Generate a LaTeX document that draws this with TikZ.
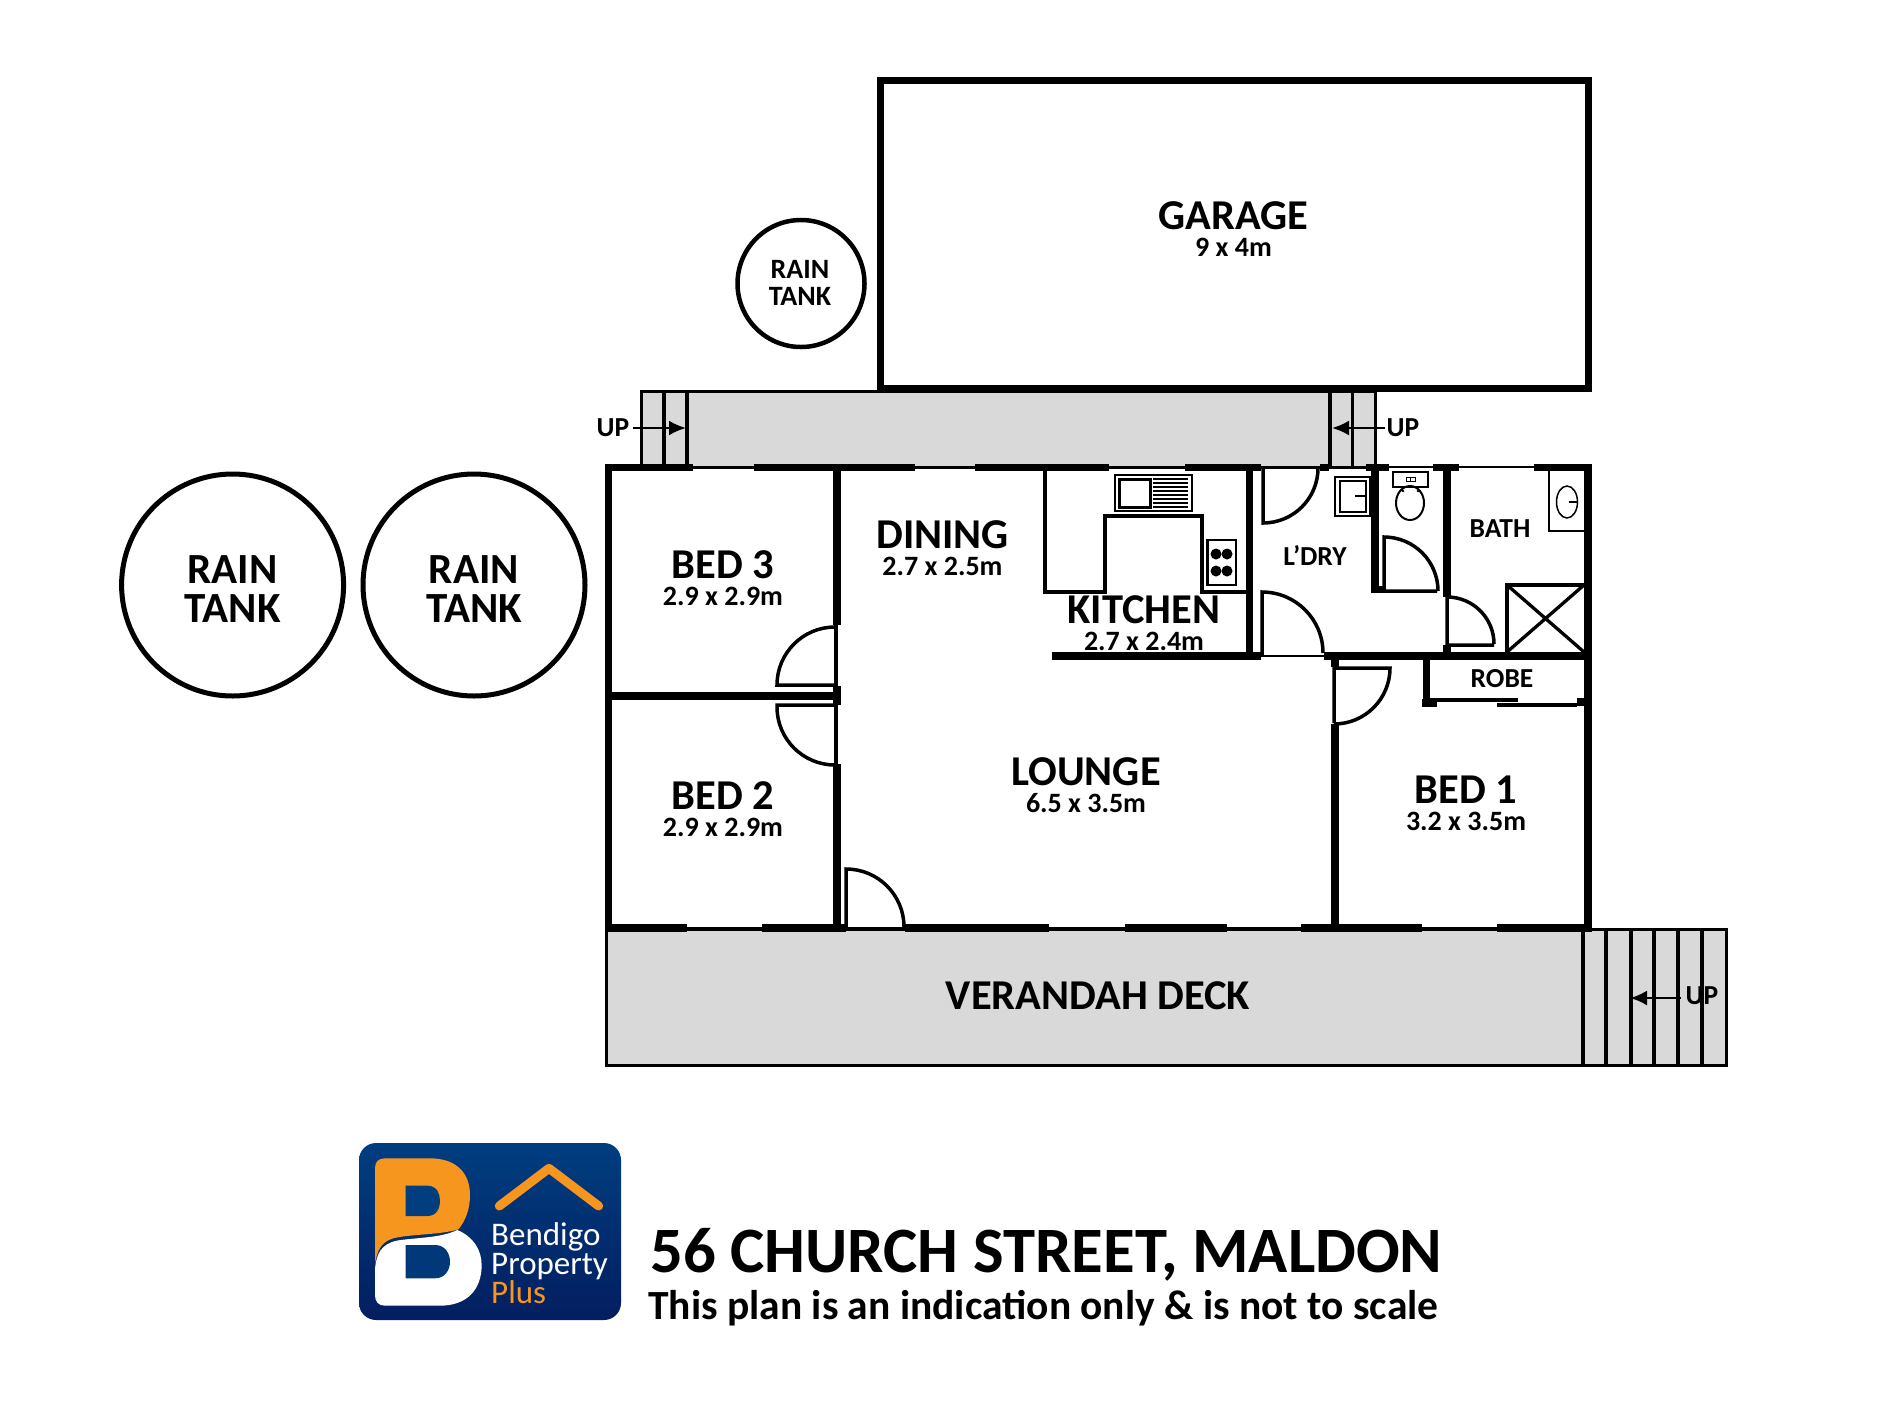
\documentclass[tikz,border=0pt]{standalone}
\usepackage{fontspec}
\setmainfont{Carlito}
\usetikzlibrary{arrows.meta}
\definecolor{deckgrey}{RGB}{217,217,217}
\definecolor{logotop}{RGB}{0,62,128}
\definecolor{logobot}{RGB}{3,30,96}
\definecolor{logoorange}{RGB}{247,150,30}
\newcommand{\fs}[1]{\fontsize{#1}{#1}\selectfont}
\newcommand{\roomname}[1]{{\fs{42.5}#1}}
\tikzset{
  wall/.style={line width=7.5pt},
  sill/.style={line width=2.5pt},
  door/.style={line width=3.5pt},
  fitting/.style={line width=2.5pt},
  deck/.style={draw=black,fill=deckgrey,line width=3pt},
  stair/.style={line width=3.3pt},
  bigroom/.style={inner sep=0pt,font=\fs{42.5}\bfseries},
  roomlabel/.style={inner sep=0pt,align=center,font=\fontsize{28}{27}\selectfont\bfseries},
  smallroom/.style={inner sep=0pt,font=\fs{27.5}\bfseries},
  uparrow/.style={line width=2.5pt,-{Latex[length=17pt,width=15pt]}}
}
\begin{document}
\begin{tikzpicture}[x=1pt,y=-1pt]
  \useasboundingbox (0,0) rectangle (1900,1425);
  % decks
  \draw[deck] (641,391) rectangle (1375,467);
  \draw[deck] (606,929) rectangle (1726,1065.5);
  \draw[stair] (664,391) -- (664,467) (687,391) -- (687,467);
  \draw[stair] (1330,391) -- (1330,467) (1352.5,391) -- (1352.5,467);
  \foreach \sx in {1583,1606,1631,1654,1678,1702}
    \draw[stair] (\sx,929) -- (\sx,1065);
  % garage and tanks
  \draw[wall,line width=7pt] (880,80) rectangle (1588,388.5);
  \node[circle,draw,line width=4.5pt,minimum size=127pt,inner sep=0pt] (tanksmall) at (801,283.5) {};
  \node[circle,draw,line width=5pt,minimum size=222pt,inner sep=0pt] (tankone) at (232.6,585) {};
  \node[circle,draw,line width=5pt,minimum size=222pt,inner sep=0pt] (tanktwo) at (474,585) {};
  % outer walls
  \draw[wall] (608.5,464) -- (608.5,932);
  \draw[wall,line width=8pt] (1588,464) -- (1588,932);
  \foreach \xa/\xb in {605/693,754/915,975/1109,1185/1261,1320/1329,1366/1389,1433/1459,1534/1592}
    \draw[wall] (\xa,467.5) -- (\xb,467.5);
  \foreach \xa/\xb in {693/754,915/975,1109/1185,1329/1366,1389/1433,1459/1534}
    \draw[sill] (\xa,467) -- (\xb,467);
  \foreach \xa/\xb in {605/687,762/846,905/1049,1124.5/1227,1301/1422,1497/1592}
    \draw[wall] (\xa,928) -- (\xb,928);
  \foreach \xa/\xb in {687/762,846/905,1049/1124.5,1227/1301,1422/1497}
    \draw[sill] (\xa,928) -- (\xb,928);
  % inner walls
  \draw[wall] (837,464) -- (837,625) (837,686) -- (837,705) (837,764) -- (837,932);
  \draw[wall,line width=8pt] (608,696) -- (841,696);
  \draw[wall] (1249.5,468) -- (1249.5,656);
  \draw[wall] (1052,656) -- (1261,656) (1324,656) -- (1585,656);
  \draw[sill] (1261,656) -- (1324,656);
  \draw[wall] (1375,468) -- (1375,593);
  \draw[wall] (1372,589.5) -- (1383,589.5);
  \draw[wall] (1447,468) -- (1447,597) (1447,645) -- (1447,656);
  \draw[wall] (1426.5,656) -- (1426.5,706);
  \draw[wall] (1422,703) -- (1437,703) (1577,702) -- (1584,702);
  \draw[wall] (1335,656) -- (1335,667) (1335,724) -- (1335,932);
  \draw[stair] (1430,700) -- (1518,700) (1497,705) -- (1577,705);
  % doors
  \draw[door] (836,625) -- (836,686);
  \draw[door] (835,627) arc[start angle=-90,end angle=-180,radius=58] -- (777,685) -- (836,685);
  \draw[door] (836,705) -- (836,764);
  \draw[door] (836,705) -- (777,705) -- (777,707) arc[start angle=180,end angle=90,radius=58];
  \draw[door] (846,928) -- (846,869) arc[start angle=-90,end angle=0,radius=58];
  \draw[door] (1263,468) -- (1263,523) arc[start angle=90,end angle=0,radius=55];
  \draw[door] (1262,656) -- (1262,592) arc[start angle=-90,end angle=0,radius=61];
  \draw[door] (1437,591) -- (1384,591) -- (1384,537) arc[start angle=-90,end angle=0,radius=54];
  \draw[door] (1494,645) -- (1447,645) -- (1447,597) arc[start angle=-90,end angle=0,radius=47];
  \draw[door] (1334,723) -- (1334,668) -- (1390,668) arc[start angle=0,end angle=90,radius=56];
  % kitchen fittings
  \draw[stair] (1045,468) -- (1045,592) -- (1105,592) -- (1105,516) -- (1202,516) -- (1202,592) -- (1246,592);
  \draw[fitting] (1115,475) rectangle (1192,511);
  \draw[line width=3pt] (1119,479) rectangle (1150,507);
  \foreach \dy in {479,483,487,491,495,499,503,507}
    \draw[line width=1.5pt] (1153,\dy) -- (1188,\dy);
  \draw[fitting] (1207.5,540) rectangle (1236,585);
  \foreach \bx in {1216,1227} \foreach \by in {554,571}
    \fill (\bx,\by) circle[radius=5.5];
  % laundry, toilet and bath fittings
  \draw[sill] (1335,477) rectangle (1370,516) (1340,481) rectangle (1366,512);
  \draw[sill] (1355,496) -- (1366,496);
  \draw[line width=1.5pt] (1393,472) rectangle (1428,487);
  \draw[line width=.7pt] (1406,477.5) rectangle (1410.5,481.5) (1410.5,477.5) rectangle (1415,481.5);
  \draw[line width=2pt] (1410,503) ellipse[x radius=14,y radius=17];
  \fill (1403,491) circle[radius=1.3] (1418,491) circle[radius=1.3];
  \draw[fitting] (1549,468) -- (1549,531) -- (1585,531);
  \draw[line width=1.5pt] (1567,502) ellipse[x radius=10.5,y radius=16];
  \draw[fitting] (1569,502) -- (1578,502);
  \draw[stair] (1507,652) -- (1507,585) -- (1584,585);
  \draw[stair] (1507,652) -- (1584,585) (1507,585) -- (1584,652);
  % stair arrows
  \coordinate (upatail) at (633,428);
  \coordinate (upahead) at (686,428);
  \coordinate (upbtail) at (1385,428);
  \coordinate (upbhead) at (1332,428);
  \coordinate (upctail) at (1681,998);
  \coordinate (upchead) at (1630,998);
  \draw[uparrow] (upatail) -- (upahead);
  \draw[uparrow] (upbtail) -- (upbhead);
  \draw[uparrow] (upctail) -- (upchead);
  \node[smallroom] (upa) at (613,428) {UP};
  \node[smallroom] (upb) at (1403,428) {UP};
  \node[smallroom] (upc) at (1702,996) {UP};
  % labels
  \node[roomlabel] (garage) at (1233.5,229) {\roomname{GARAGE}\\9 x 4m};
  \node[roomlabel] (raina) at (800,283) {RAIN\\TANK};
  \node[inner sep=0pt,align=center,font=\fontsize{43}{39}\selectfont\bfseries] (rainb) at (232.6,589) {RAIN\\TANK};
  \node[inner sep=0pt,align=center,font=\fontsize{43}{39}\selectfont\bfseries] (rainc) at (474,589) {RAIN\\TANK};
  \node[roomlabel] (bedthree) at (723,578) {\roomname{BED 3}\\2.9 x 2.9m};
  \node[roomlabel] (dining) at (942.5,548.6) {\roomname{DINING}\\2.7 x 2.5m};
  \node[roomlabel] (kitchen) at (1144,623.6) {\roomname{KITCHEN}\\2.7 x 2.4m};
  \node[smallroom] (ldry) at (1315,555) {L’DRY};
  \node[smallroom] (bath) at (1500,529) {BATH};
  \node[smallroom] (robe) at (1502,679) {ROBE};
  \node[roomlabel] (lounge) at (1086,785.2) {\roomname{LOUNGE}\\6.5 x 3.5m};
  \node[roomlabel] (bedtwo) at (723,809) {\roomname{BED 2}\\2.9 x 2.9m};
  \node[roomlabel] (bedone) at (1466,803.2) {\roomname{BED 1}\\3.2 x 3.5m};
  \node[bigroom] (verandah) at (1098,996) {VERANDAH DECK};
  % logo
  \shade[top color=logotop,bottom color=logobot,rounded corners=17pt] (359,1143) rectangle (621,1320);
  \begin{scope}[shift={(340,1130)},x=.3333pt,y=-.3333pt]
    \fill[logoorange] (105,400) -- (105,115) .. controls (105,95) and (115,85) .. (135,85)
      -- (270,85) .. controls (350,85) and (390,130) .. (390,195)
      .. controls (390,240) and (375,275) .. (355,298)
      .. controls (300,315) and (210,312) .. (160,325) .. controls (125,335) and (112,360) .. (105,400) -- cycle;
    \fill[logotop] (197,167) -- (262,167) .. controls (290,167) and (300,190) .. (300,212)
      .. controls (300,235) and (290,258) .. (262,258) -- (197,258) -- cycle;
    \fill[white] (105,420) .. controls (108,370) and (125,342) .. (170,332)
      .. controls (230,322) and (300,325) .. (352,300)
      .. controls (400,320) and (425,360) .. (425,405)
      .. controls (425,480) and (380,527) .. (300,527) -- (135,527)
      .. controls (115,527) and (105,515) .. (105,495) -- cycle;
    \fill[logotop!80!logobot] (197,345) -- (285,345) .. controls (315,345) and (330,370) .. (330,395)
      .. controls (330,420) and (315,445) .. (285,445) -- (197,445) -- cycle;
    \draw[logoorange,line width=9pt,line cap=round,line join=round] (478,228) -- (627,115) -- (776,228);
  \end{scope}
  \node[inner sep=0pt,anchor=north west,align=left,text=white,font=\fontsize{33}{29}\selectfont] (logoname) at (491,1222)
    {Bendigo\\Property\\\textcolor{logoorange}{Plus}};
  % title
  \node[inner sep=0pt,anchor=north west,align=left,font=\fontsize{41.5}{47.5}\selectfont\bfseries] (title) at (648,1228)
    {\hspace*{2pt}{\fs{64.7}56 CHURCH STREET, MALDON}\\This plan is an indication only \& is not to scale};
\end{tikzpicture}
\end{document}
